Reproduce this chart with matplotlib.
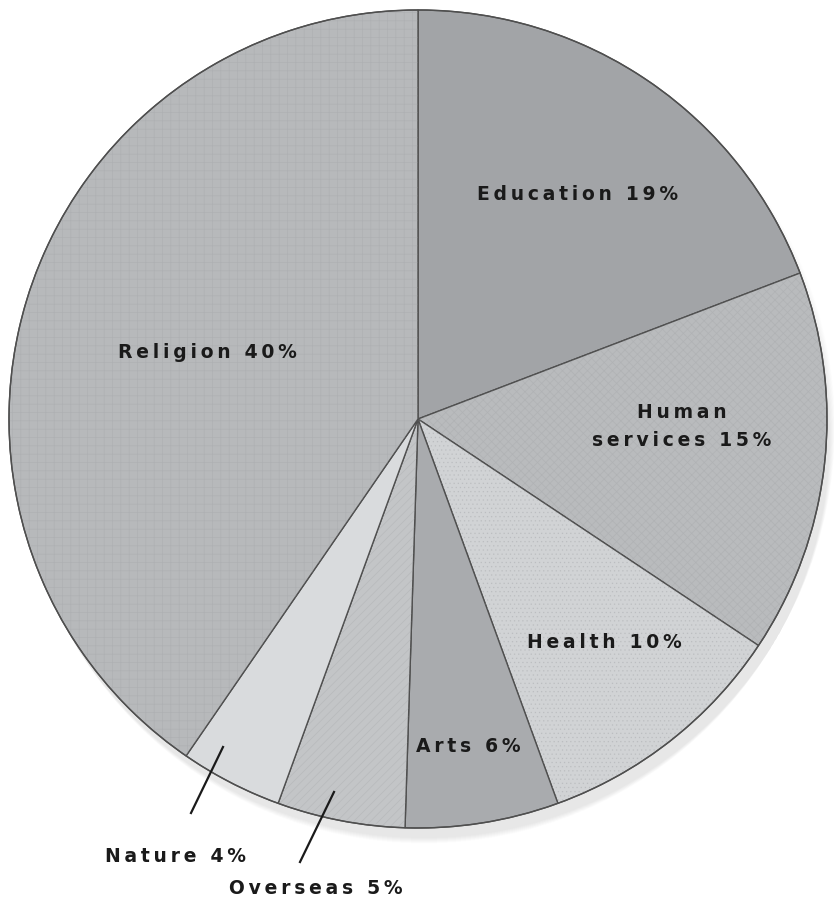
import matplotlib
matplotlib.use("Agg")
import matplotlib.pyplot as plt
from matplotlib.patches import Circle

## Slices, clockwise from 12 o'clock
labels = ["Education", "Human\nservices", "Health", "Arts", "Overseas", "Nature", "Religion"]
shares = [19, 15, 10, 6, 5, 4, 40]
fills = ["#a2a4a7", "#b9bbbd", "#d1d3d5", "#a9abae", "#c3c5c7", "#d9dbdd", "#b7b9bb"]
textures = [None, "xxxx", "....", None, "////", None, "++"]

# label anchor points (pixel space, y up)
label_xy = [(578, 707), (682, 476), (604, 259), (468, 155), (316, 14), (176, 46), (207, 549)]
leaders = {"Overseas": ((334, 110), (300, 40)), "Nature": ((223, 155), (191, 89))}

matplotlib.rc('font', family='DejaVu Sans', weight='bold')
matplotlib.rc('hatch', linewidth=0.5)

THIN = "\u2009"

def tracked(s):
    # spread the letters out a little, line by line
    return "\n".join(THIN.join(line) for line in s.split("\n"))

fig = plt.figure(figsize=(8.34, 9.02), dpi=100)
ax = fig.add_axes([0, 0, 1, 1])

cx, cy, r = 418, 483, 409

## soft shadow under the lower edge
for k in range(12):
    ax.add_patch(Circle((cx + 6, cy - 8 - k), r + 2 - k * 0.5, color="k", alpha=0.009, lw=0, zorder=0))

wedges, _ = ax.pie(shares, colors=fills, startangle=90, counterclock=False,
                   center=(cx, cy), radius=r,
                   wedgeprops=dict(edgecolor="#4f4f4f", linewidth=1.0))

# faint textures laid over the fills
tex, _ = ax.pie(shares, colors=["none"] * len(shares), startangle=90, counterclock=False,
                center=(cx, cy), radius=r,
                wedgeprops=dict(edgecolor="#9a9c9f", linewidth=0))
for w, h in zip(tex, textures):
    if h:
        w.set_hatch(h)
        w.set_alpha(0.28)
    else:
        w.set_visible(False)

ax.add_patch(Circle((cx, cy), r, fill=False, ec="#4f4f4f", lw=1.0, zorder=3))

for name, v, (x, y) in zip(labels, shares, label_xy):
    ax.text(x, y, tracked("%s %d%%" % (name, v)), ha="center", va="center", fontsize=13.5,
            color="#1a1a1a", linespacing=1.6, zorder=5)

for name, (p0, p1) in leaders.items():
    ax.plot([p0[0], p1[0]], [p0[1], p1[1]], color="#1a1a1a", lw=1.6, zorder=5)

ax.set_xlim(0, 834)
ax.set_ylim(0, 902)
ax.set_aspect("equal")
ax.axis("off")

plt.savefig("out.png", dpi=100)
